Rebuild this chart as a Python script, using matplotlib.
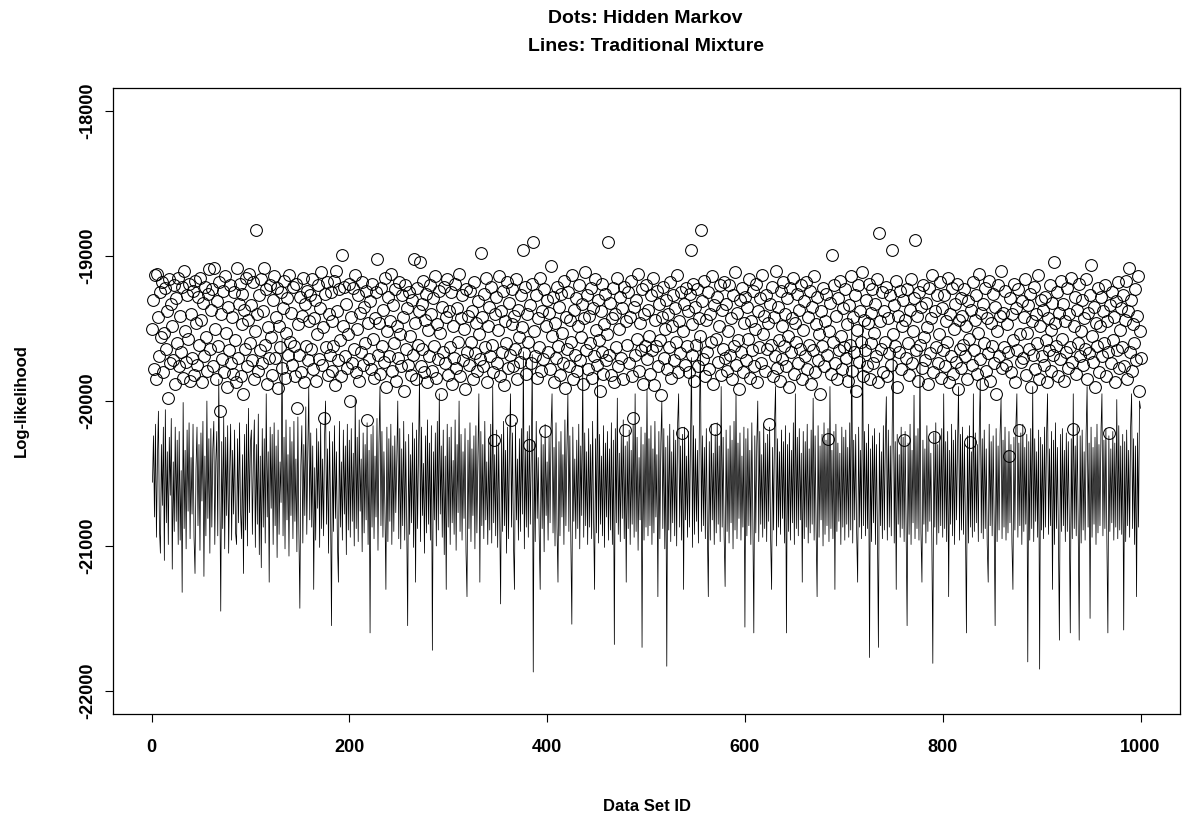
import matplotlib
matplotlib.use("Agg")
import matplotlib.pyplot as plt
from matplotlib import font_manager
import numpy as np

# pick a narrow bold sans if installed (looks like R's Windows plot font)
names = {f.name for f in font_manager.fontManager.ttflist}
FONT = "Liberation Sans Narrow" if "Liberation Sans Narrow" in names else "Liberation Sans"
plt.rcParams["font.family"] = [FONT, "DejaVu Sans"]
plt.rcParams["font.weight"] = "bold"

# Lines: Traditional Mixture (log-likelihood per data set)
mixture_ll = [
    -20560,-20240,-20800,-20160,-20940,-20400,-20070,-20880,-21050,-20300,-20720,-20180,-21100,-20060,-20840,-20350,-20990,-20250,-20650,-20120,
    -21160,-20420,-20900,-20180,-20830,-20270,-20990,-20210,-20960,-20480,-21320,-20010,-20880,-20340,-21020,-20200,-20760,-20150,-20950,-20390,
    -20780,-20160,-20940,-21190,-20470,-20180,-20860,-20300,-21030,-20220,-20690,-20140,-21210,-20380,-20930,-20000,-20810,-20260,-21050,-20190,
    -20870,-20330,-20140,-20990,-20420,-20210,-20930,-19850,-20540,-21450,-20280,-20880,-20110,-21020,-20250,-20790,-20170,-21050,-20500,-20160,
    -20960,-20340,-20780,-20200,-20910,-20990,-20260,-20840,-20150,-20760,-20950,-20370,-21190,-20230,-20890,-20160,-21000,-20050,-20770,-20290,
    -20200,-20920,-20410,-20130,-21010,-20300,-20850,-20090,-21060,-20380,-21150,-20190,-20870,-20260,-20980,-19950,-20800,-20350,-21250,-20180,
    -20740,-20230,-20990,-20150,-20860,-20310,-21080,-20200,-20920,-20420,-20700,-19570,-20930,-20250,-21020,-20130,-20820,-20370,-21070,-20180,
    -20790,-20280,-20950,-20140,-20830,-20400,-21040,-20110,-20890,-21430,-20450,-20170,-20980,-20300,-20790,-20040,-20920,-20360,-19900,-20820,
    -20220,-20870,-20310,-21300,-20460,-20960,-20190,-20740,-20280,-21010,-20150,-20880,-20400,-20930,-20240,-20000,-20850,-20330,-21050,-20210,
    -20710,-21550,-20280,-20900,-20170,-20810,-20350,-20990,-21250,-20140,-20870,-20420,-20960,-20200,-20780,-20310,-21060,-20160,-20890,-20270,
    -20940,-20190,-20830,-20360,-21000,-19980,-20880,-20250,-20970,-20130,-20760,-20400,-21040,-20220,-20910,-20300,-20820,-20150,-20990,-20340,
    -21600,-20230,-20870,-20170,-20950,-20380,-20800,-20120,-21030,-20290,-19900,-20860,-20210,-20940,-20350,-20730,-21300,-20180,-20970,-20260,
    -20830,-20160,-20990,-20310,-20900,-20240,-20770,-20410,-20000,-20950,-20190,-21020,-20330,-20860,-20140,-20960,-20280,-20810,-21550,-20230,
    -20920,-20370,-20840,-20150,-21010,-20260,-21250,-20200,-20880,-20320,-19820,-20970,-20180,-20790,-20430,-21050,-20240,-20910,-20130,-20850,
    -20290,-20960,-20170,-21720,-20350,-20820,-20220,-21000,-20140,-20890,-19950,-20780,-20310,-20940,-20200,-21060,-20380,-21300,-20160,-20870,
    -20250,-20990,-20180,-20840,-20410,-20920,-20130,-21030,-20300,-20770,-20000,-20900,-20230,-20960,-20350,-20810,-20190,-21040,-21350,-20270,
    -20880,-20150,-20970,-20330,-20790,-20240,-21020,-20170,-20910,-20390,-19950,-21250,-20210,-20860,-20300,-20950,-20140,-20820,-20420,-20990,
    -20260,-20890,-20160,-20980,-19900,-20840,-20370,-20930,-20200,-21010,-20290,-20760,-21400,-20230,-20900,-20140,-20860,-20340,-21050,-20180,
    -20950,-20310,-19950,-20870,-20220,-20990,-21300,-20150,-20820,-20400,-20960,-20260,-20900,-20190,-20780,-19660,-21020,-20330,-20870,-20210,
    -20940,-20170,-20850,-20360,-19680,-21870,-20280,-20970,-20140,-20810,-20390,-20920,-21300,-20230,-20880,-20300,-21040,-20160,-20790,-20420,
    -20960,-20250,-20840,-20190,-19950,-20910,-20320,-21000,-20150,-20870,-21250,-20280,-20930,-20210,-20800,-20370,-20990,-20130,-20860,-20340,
    -19950,-20900,-20240,-20970,-21540,-20180,-20830,-20400,-20950,-20270,-20880,-20160,-21020,-20310,-20790,-19750,-20940,-20220,-20860,-20350,
    -20990,-20190,-20870,-20300,-20950,-20140,-20820,-21300,-20260,-20910,-19800,-20980,-20230,-20850,-20380,-20930,-20170,-21010,-20290,-20800,
    -20210,-20960,-20330,-20890,-20150,-20990,-20270,-21680,-20190,-20840,-19980,-20920,-20360,-20970,-20240,-20810,-20130,-20950,-20310,-21250,
    -20280,-20880,-20200,-20990,-20340,-20850,-20160,-20940,-19950,-20900,-20250,-21030,-20390,-20820,-20180,-21700,-20300,-20960,-20220,-20870,
    -19920,-20930,-20260,-20860,-20170,-20990,-20330,-20910,-20140,-20800,-20370,-21350,-20210,-20950,-20290,-20000,-20880,-20190,-21020,-20320,
    -21830,-20240,-20890,-20160,-20970,-20350,-20840,-20200,-20930,-20270,-21000,-20150,-19950,-20870,-20310,-20960,-20230,-21300,-20180,-20820,
    -20380,-20940,-20210,-20870,-20300,-19700,-21010,-20170,-20920,-20260,-20830,-20340,-20980,-20140,-19560,-20900,-20240,-20860,-20320,-20950,
    -20190,-20880,-21350,-20280,-20960,-20160,-20820,-20360,-20990,-20230,-20910,-20150,-20850,-20310,-20970,-19900,-20870,-20250,-20930,-21280,
    -20200,-20900,-20330,-20980,-20170,-20840,-20270,-21020,-20140,-20890,-19950,-20950,-20290,-20810,-20220,-20960,-20380,-20870,-20180,-21560,
    -20260,-20930,-20190,-20860,-20340,-20990,-20150,-20800,-21600,-20240,-20910,-20300,-20000,-20970,-20210,-20850,-20370,-20940,-20160,-20880,
    -20290,-20970,-20230,-20830,-20180,-20950,-21300,-20320,-20890,-20140,-19900,-21000,-20260,-20870,-20350,-20920,-20200,-20810,-20280,-20980,
    -20170,-21600,-20300,-20900,-20220,-20960,-20340,-20840,-20150,-20990,-19950,-20880,-20250,-20930,-20190,-20820,-20360,-21250,-20210,-20950,
    -20280,-20870,-20160,-20980,-20330,-20910,-20200,-20850,-19980,-20960,-20240,-20890,-21350,-20170,-20940,-20310,-20820,-20230,-21000,-20150,
    -20920,-20270,-20860,-20190,-20970,-19900,-20880,-20340,-20950,-20210,-21300,-20160,-20900,-20290,-20830,-20360,-20990,-20180,-20870,-20250,
    -20960,-20200,-20850,-20320,-20940,-20150,-20890,-19430,-20980,-20270,-20820,-20230,-20910,-21250,-20180,-20870,-20340,-20950,-19450,-20860,
    -20210,-20930,-20290,-20880,-20160,-21770,-20330,-20970,-20240,-20840,-20190,-20990,-20300,-20900,-21700,-20220,-20860,-20350,-20950,-20170,
    -20890,-20260,-19970,-20960,-20200,-20870,-20310,-20930,-20150,-19650,-20980,-20280,-21300,-20230,-20850,-20370,-20940,-20180,-20880,-20250,
    -20970,-20210,-20860,-21550,-20290,-20920,-20160,-20990,-20340,-20840,-19960,-20950,-20240,-20880,-20190,-20960,-19650,-20910,-21250,-20270,
    -20850,-20330,-20980,-20170,-20900,-20260,-20830,-20360,-20950,-21810,-20220,-20870,-20150,-20990,-20300,-20910,-20240,-20860,-20190,-20940,
    -19950,-20880,-20280,-20970,-20210,-21350,-20340,-20850,-20160,-20930,-20270,-20990,-20200,-20820,-20310,-19900,-20960,-20230,-20890,-20180,
    -20920,-20290,-20860,-21600,-20240,-20980,-20170,-20870,-20350,-20940,-19950,-20900,-20220,-20840,-20300,-20970,-20190,-19850,-20910,-20260,
    -20950,-20200,-20880,-20330,-20990,-21250,-20160,-20860,-20280,-20930,-20240,-20820,-21550,-20190,-20970,-20310,-20890,-20230,-19980,-20950,
    -20270,-20870,-20180,-20960,-20340,-20910,-20210,-20840,-20300,-20980,-21300,-20250,-20890,-20170,-19950,-20940,-20290,-20860,-20220,-20990,
    -20160,-20900,-20320,-20850,-20230,-21800,-20280,-20960,-20190,-20880,-19900,-20970,-20260,-20830,-20350,-20940,-20200,-21850,-20250,-20890,
    -20300,-20950,-20180,-20870,-20240,-19950,-20920,-20330,-20860,-20210,-21300,-20270,-20990,-20150,-20880,-20320,-20940,-21650,-20230,-20900,
    -20190,-20860,-20340,-20970,-20220,-20900,-20280,-20840,-21600,-20260,-20950,-19950,-20880,-20310,-20930,-20170,-20870,-21650,-20240,-20980,
    -20200,-20890,-20350,-20960,-20230,-19900,-20870,-20290,-21500,-20180,-20940,-20320,-20850,-20250,-20990,-20160,-20910,-20300,-20860,-20220,
    -19950,-20930,-20270,-20880,-20190,-20970,-21600,-20240,-20900,-20330,-20840,-20210,-20960,-20290,-20870,-19990,-20950,-20170,-20890,-20310,
    -20920,-20230,-21580,-20280,-20970,-20200,-20860,-20340,-20940,-20180,-19950,-20880,-20260,-20990,-20310,-21350,-20220,-20870,-20000,-20050,
]

# Dots: Hidden Markov
hmm_ll = [
    -19500,-19300,-19780,-19130,-19850,-19120,-19420,-19690,-19250,-19560,-19180,-19800,-19530,-19220,-19640,-19380,-19980,-19160,-19740,-19330,
    -19480,-19720,-19200,-19880,-19290,-19600,-19150,-19760,-19410,-19660,-19210,-19840,-19100,-19520,-19730,-19270,-19570,-19190,-19860,-19400,
    -19700,-19240,-19820,-19170,-19460,-19750,-19280,-19610,-19150,-19440,-19870,-19320,-19690,-19210,-19560,-19790,-19260,-19090,-19640,-19370,
    -19230,-19760,-19080,-19500,-19850,-19310,-19620,-19180,-20070,-19400,-19710,-19240,-19800,-19140,-19530,-19900,-19350,-19650,-19200,-19740,
    -19420,-19810,-19250,-19580,-19870,-19080,-19700,-19330,-19190,-19830,-19470,-19260,-19950,-19370,-19640,-19150,-19760,-19440,-19120,-19600,
    -19340,-19720,-19180,-19850,-19520,-18820,-19400,-19790,-19270,-19650,-19160,-19740,-19380,-19080,-19610,-19230,-19880,-19490,-19700,-19200,
    -19560,-19820,-19300,-19140,-19700,-19420,-19220,-19910,-19480,-19630,-19250,-19770,-19360,-19170,-19840,-19530,-19290,-19680,-19130,-19590,
    -19390,-19750,-19210,-19620,-19830,-19190,-20050,-19470,-19680,-19280,-19800,-19410,-19150,-19870,-19330,-19620,-19240,-19720,-19450,-19270,
    -19640,-19160,-19780,-19430,-19300,-19860,-19540,-19200,-19710,-19360,-19110,-19750,-19490,-20120,-19260,-19630,-19180,-19820,-19400,-19680,
    -19250,-19790,-19450,-19620,-19170,-19890,-19100,-19380,-19720,-19230,-19580,-19830,-18990,-19480,-19210,-19690,-19330,-19770,-19540,-19190,
    -20000,-19420,-19740,-19220,-19640,-19130,-19800,-19500,-19270,-19860,-19390,-19660,-19180,-19750,-19350,-19600,-19240,-20130,-19460,-19710,
    -19310,-19780,-19190,-19570,-19840,-19430,-19250,-19020,-19680,-19460,-19810,-19220,-19620,-19370,-19730,-19150,-19900,-19520,-19280,-19690,
    -19450,-19120,-19790,-19340,-19600,-19230,-19860,-19480,-19700,-19180,-19540,-19760,-19270,-19420,-19930,-19200,-19640,-19360,-19750,-19250,
    -19550,-19820,-19300,-19680,-19020,-19460,-19850,-19220,-19610,-19380,-19040,-19760,-19330,-19640,-19170,-19800,-19440,-19260,-19870,-19510,
    -19690,-19200,-19400,-19790,-19290,-19620,-19140,-19840,-19470,-19710,-19240,-19530,-19950,-19350,-19660,-19210,-19740,-19420,-19160,-19820,
    -19380,-19630,-19250,-19880,-19480,-19700,-19190,-19770,-19360,-19590,-19120,-19830,-19430,-19270,-19720,-19500,-19920,-19230,-19660,-19410,
    -19750,-19240,-19590,-19380,-19850,-19180,-19670,-19460,-19790,-19310,-19540,-19710,-18980,-19420,-19760,-19260,-19630,-19150,-19870,-19480,
    -19350,-19690,-19210,-19610,-19800,-20270,-19400,-19280,-19740,-19510,-19140,-19830,-19380,-19660,-19240,-19890,-19450,-19600,-19180,-19770,
    -19320,-19680,-20130,-19470,-19230,-19760,-19410,-19640,-19160,-19850,-19370,-19560,-19730,-19270,-19490,-18960,-19670,-19210,-19810,-19400,
    -19590,-20300,-19340,-19740,-19190,-18900,-19520,-19690,-19270,-19840,-19430,-19630,-19150,-19790,-19380,-19710,-19230,-20210,-19480,-19300,
    -19660,-19390,-19780,-19070,-19550,-19280,-19870,-19460,-19700,-19210,-19620,-19350,-19820,-19260,-19530,-19740,-19170,-19910,-19420,-19640,
    -19250,-19760,-19440,-19590,-19130,-19850,-19370,-19680,-19290,-19790,-19480,-19200,-19720,-19560,-19330,-19880,-19430,-19110,-19650,-19270,
    -19780,-19410,-19600,-19220,-19840,-19360,-19690,-19160,-19510,-19750,-19300,-19580,-19930,-19380,-19660,-19190,-19810,-19470,-19260,-19720,
    -19540,-18900,-19680,-19320,-19820,-19430,-19220,-19870,-19400,-19630,-19150,-19760,-19500,-19280,-19700,-19360,-19850,-19210,-20200,-19450,
    -19610,-19250,-19740,-19420,-19170,-19830,-20120,-19350,-19680,-19300,-19570,-19120,-19790,-19460,-19650,-19230,-19880,-19400,-19620,-19200,
    -19710,-19370,-19550,-19810,-19270,-19650,-19150,-19890,-19440,-19620,-19240,-19760,-19330,-19580,-19960,-19420,-19210,-19700,-19500,-19300,
    -19780,-19400,-19630,-19180,-19840,-19480,-19270,-19720,-19360,-19590,-19130,-19800,-19450,-19670,-19250,-20220,-19520,-19330,-19750,-19220,
    -19620,-19380,-19800,-19260,-18960,-19680,-19470,-19190,-19860,-19350,-19610,-19230,-19760,-19430,-19550,-18820,-19310,-19710,-19170,-19830,
    -19440,-19660,-19250,-19780,-19400,-19590,-19140,-19880,-19340,-20190,-19570,-19280,-19730,-19480,-19200,-19820,-19370,-19640,-19180,-19700,
    -19330,-19790,-19520,-19200,-19680,-19430,-19850,-19270,-19620,-19110,-19750,-19390,-19580,-19920,-19300,-19660,-19220,-19800,-19460,-19280,
    -19720,-19350,-19570,-19160,-19840,-19450,-19650,-19240,-19760,-19500,-19190,-19870,-19380,-19630,-19290,-19740,-19130,-19540,-19410,-19790,
    -19270,-19640,-19460,-20160,-19330,-19610,-19210,-19830,-19420,-19690,-19100,-19770,-19350,-19580,-19860,-19240,-19710,-19480,-19180,-19620,
    -19400,-19760,-19290,-19550,-19900,-19220,-19660,-19430,-19150,-19810,-19460,-19590,-19260,-19740,-19370,-19640,-19200,-19850,-19510,-19310,
    -19690,-19180,-19780,-19420,-19610,-19240,-19880,-19350,-19650,-19140,-19800,-19470,-19280,-19720,-19540,-19950,-19380,-19620,-19220,-19760,
    -19450,-19260,-19680,-20260,-19520,-19320,-19810,-18990,-19590,-19200,-19740,-19410,-19850,-19290,-19650,-19170,-19550,-19780,-19360,-19630,
    -19230,-19700,-19470,-19860,-19340,-19610,-19140,-19790,-19420,-19660,-19270,-19930,-19510,-19200,-19730,-19380,-19590,-19110,-19830,-19440,
    -19650,-19300,-19760,-19460,-19190,-19850,-19390,-19600,-19230,-19740,-19530,-19330,-19690,-19160,-19870,-18840,-19450,-19640,-19250,-19800,
    -19380,-19590,-19210,-19830,-19430,-19670,-19270,-19750,-18960,-19540,-19340,-19620,-19170,-19900,-19410,-19660,-19240,-19780,-19480,-19300,
    -20270,-19440,-19700,-19230,-19600,-19820,-19370,-19160,-19740,-19520,-19290,-18890,-19650,-19410,-19860,-19250,-19610,-19350,-19770,-19200,
    -19560,-19720,-19320,-19490,-19880,-19220,-19670,-19430,-19130,-19800,-20250,-19380,-19630,-19270,-19740,-19540,-19180,-19840,-19360,-19650,
    -19270,-19760,-19450,-19590,-19150,-19870,-19400,-19690,-19220,-19810,-19500,-19330,-19730,-19190,-19920,-19440,-19640,-19290,-19770,-19410,
    -19610,-19230,-19690,-19480,-19850,-19310,-19570,-20280,-19370,-19750,-19180,-19650,-19440,-19270,-19810,-19530,-19120,-19710,-19390,-19880,
    -19330,-19600,-19220,-19790,-19430,-19670,-19170,-19860,-19460,-19620,-19260,-19740,-19350,-19950,-19520,-19200,-19690,-19410,-19100,-19770,
    -19390,-19630,-19240,-19750,-19470,-19660,-20380,-19290,-19800,-19400,-19580,-19190,-19870,-19360,-19650,-19230,-20200,-19540,-19730,-19310,
    -19700,-19420,-19160,-19820,-19530,-19340,-19640,-19260,-19900,-19450,-19680,-19210,-19780,-19400,-19600,-19130,-19850,-19480,-19300,-19690,
    -19370,-19750,-19280,-19580,-19870,-19430,-19650,-19200,-19790,-19510,-19320,-19680,-19040,-19460,-19620,-19250,-19830,-19390,-19710,-19170,
    -19570,-19330,-19860,-19450,-19660,-19220,-19770,-19400,-19630,-19150,-19730,-20190,-19480,-19280,-19810,-19370,-19600,-19190,-19690,-19520,
    -19300,-19750,-19430,-19640,-19160,-19850,-19390,-19670,-19270,-19060,-19550,-19730,-19350,-19900,-19460,-19620,-19220,-19800,-19480,-19280,
    -19690,-19380,-19600,-19200,-19830,-19450,-19660,-20220,-19340,-19740,-19250,-19580,-19420,-19870,-19310,-19650,-19180,-19770,-19510,-19360,
    -19630,-19270,-19760,-19440,-19170,-19850,-19380,-19080,-19660,-19300,-19790,-19470,-19600,-19230,-19720,-19410,-19140,-19930,-19520,-19700,
]

x_ticks = [0, 200, 400, 600, 800, 1000]
y_ticks = [-22000, -21000, -20000, -19000, -18000]

fig = plt.figure(figsize=(11.98, 8.23), dpi=100)
ax = fig.add_axes([0.0943, 0.1324, 0.8907, 0.7606])

x_mix = np.arange(1, len(mixture_ll) + 1)
x_hmm = np.arange(1, len(hmm_ll) + 1)
ax.plot(x_mix, mixture_ll, color="black", lw=0.55)
ax.plot(x_hmm, hmm_ll, linestyle="none", marker="o", ms=8.5,
        mfc="none", mec="black", mew=0.75)

# R style axes: 4% padding, ticks outside, box around the plot
ax.set_xlim(1 - 0.04 * 999, 1000 + 0.04 * 999)
ax.set_ylim(-22160, -17840)
ax.set_xticks(x_ticks)
ax.set_yticks(y_ticks)
ax.set_yticklabels([str(v) for v in y_ticks], rotation=90, va="center")
ax.tick_params(direction="out", length=6, width=0.8, labelsize=13)
ax.tick_params(axis="x", pad=12)
ax.tick_params(axis="y", pad=6)
for s in ax.spines.values():
    s.set_linewidth(0.9)

ax.set_xlabel("Data Set ID", fontsize=12, fontweight="bold", labelpad=31)
ax.set_ylabel("Log-likelihood", fontsize=12, fontweight="bold", labelpad=36)

fig.text(0.539, 0.978, "Dots: Hidden Markov", ha="center", va="center",
         fontsize=14, fontweight="bold")
fig.text(0.539, 0.943, "Lines: Traditional Mixture", ha="center", va="center",
         fontsize=14, fontweight="bold")

fig.savefig("out.png", dpi=100)
